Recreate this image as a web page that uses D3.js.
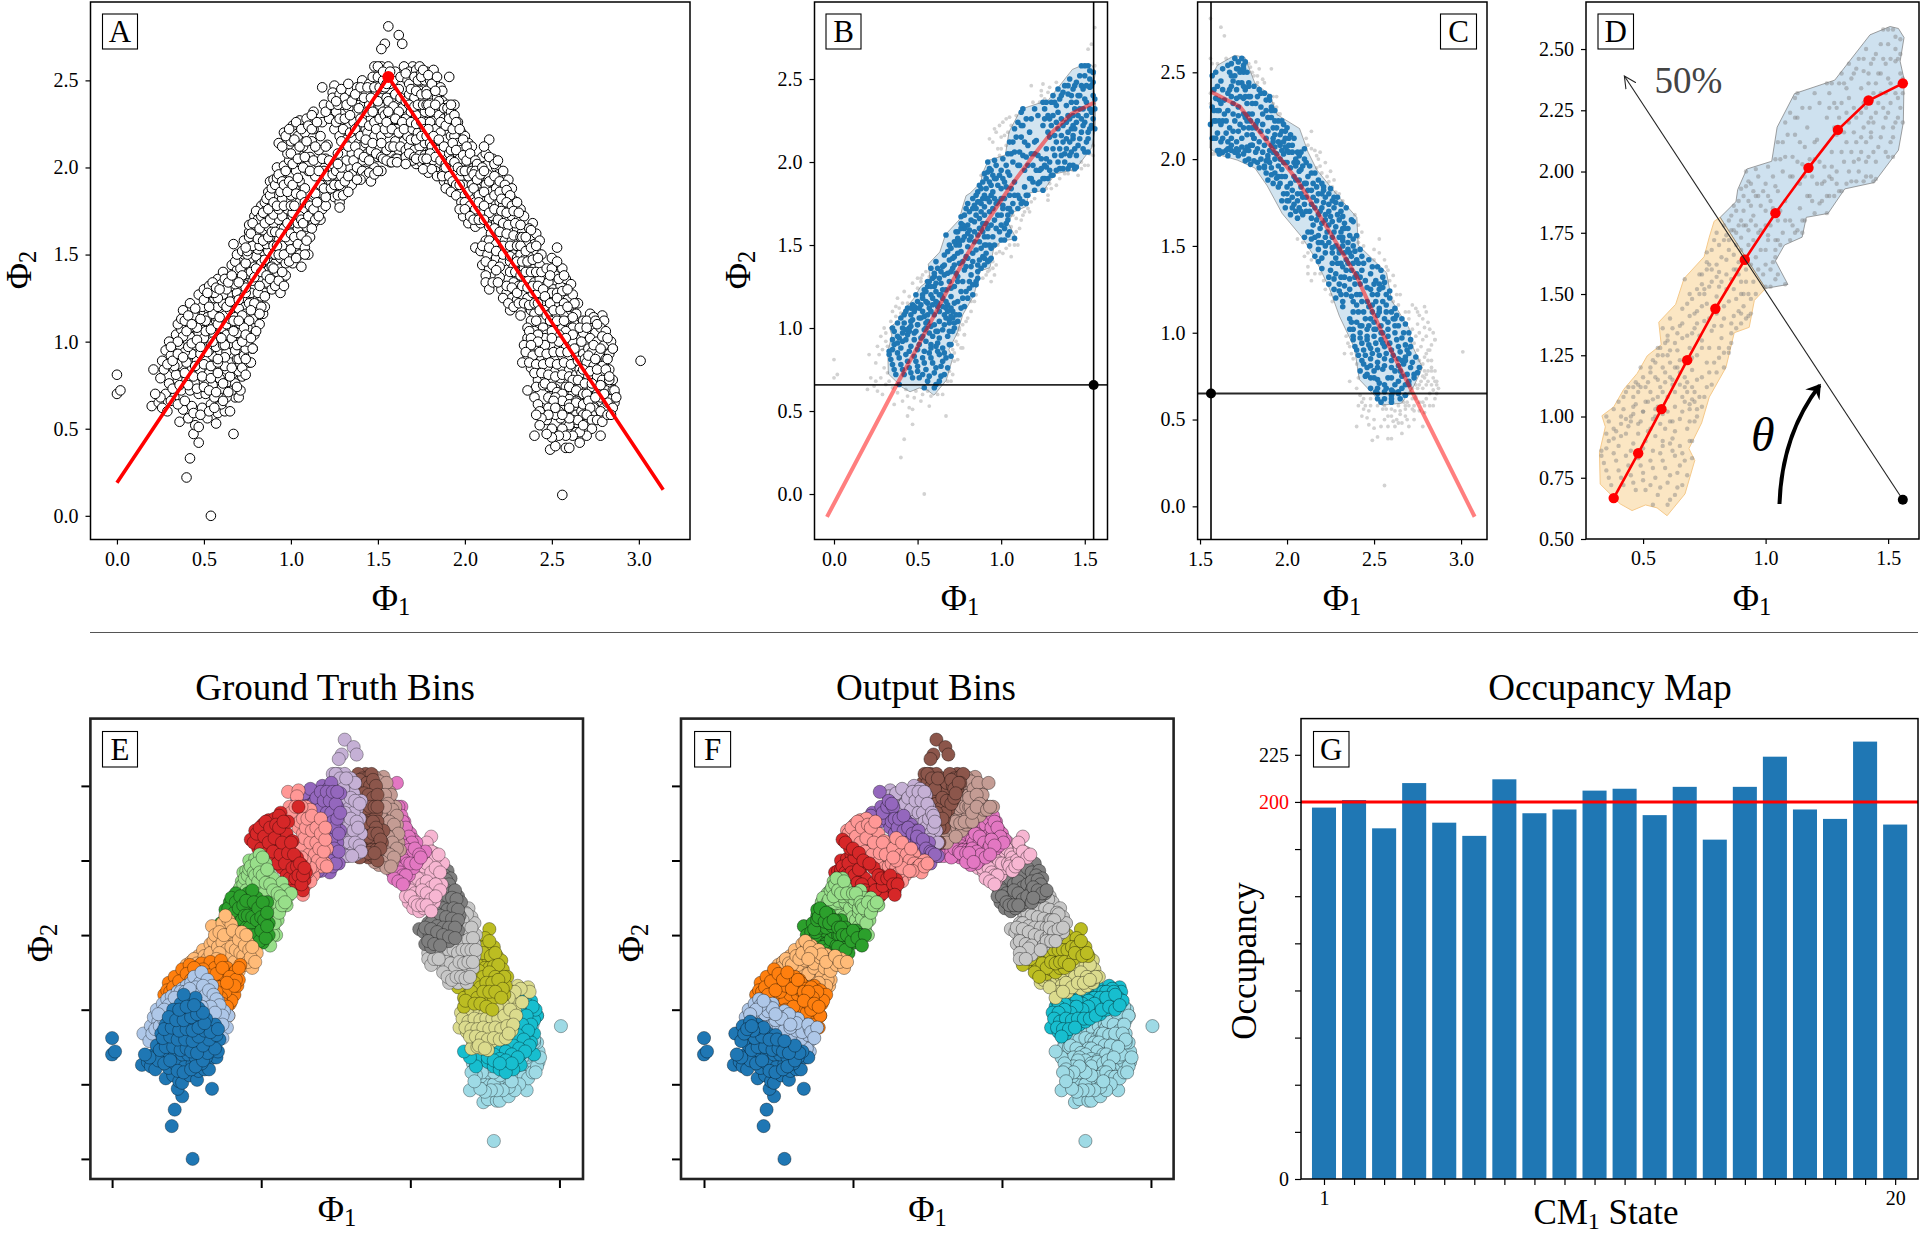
<!DOCTYPE html>
<html><head><meta charset="utf-8"><style>html,body{margin:0;background:#fff}svg{display:block}text{font-family:"Liberation Serif",serif;fill:#000}</style>
<script src="https://cdn.jsdelivr.net/npm/d3@7"></script></head><body><svg id="c" width="1920" height="1234"></svg>
<script>
const bin01=[0,81,0,70,2,72,54,0,40,22,42,33,47,42,44,47,67,47,20,63,24,65,26,62,29,60,36,54,41,56,45,52,47,51,52,56,57,53,58,59,62,60,65,60,68,68,70,68,38,61,43,63,49,62,54,64,60,64,63,68,66,72,71,72,28,70,33,68,37,72,42,72,47,70,51,70,56,68,60,73,64,77,68,76,72,80,30,76,35,78,40,78,45,76,50,77,55,75,59,79,63,84,67,82,33,84,38,85,43,84,48,83,53,82,57,85,61,89,65,88,69,90,36,90,41,92,46,89,51,90,55,92,59,95,63,94,44,96,49,98,54,99,58,101,46,104,52,106,56,108,41,100,48,110,31,66,35,64,39,66,44,59,48,58,53,60,56,62,61,66,64,71,69,74,32,73,36,75,41,75,46,73,50,74,53,72,57,71,61,76,65,80,70,83,34,81,39,82,44,80,49,80,54,79,58,82,62,86,66,85,71,87,35,87,40,88,45,86,50,87,54,86,58,88,62,91,38,95,43,93,48,93,53,95,57,97,61,98,45,100,50,102,55,103,25,68,22,70];
const bin02=[21,84,25,79,26,89,28,95,30,100,31,92,34,104,33,86,36,98,37,107,39,94,40,109,42,103,44,112,45,98,47,114,47,105,50,116,50,102,53,110,53,118,55,122,56,104,57,112,59,118,60,108,60,125,62,113,63,104,64,120,65,99,66,108,67,116,68,95,69,103,70,90,71,98,72,85,73,92,76,88,78,96,77,88,52,94,62,98,58,90,75,99,71,106,74,81,27,84,29,87,32,89,35,93,38,91,41,97,43,99,46,101,48,97,51,106,54,107,56,115,58,110,61,116,63,110,65,113,68,110,70,107,72,103,74,96,46,112,49,112,52,114,38,103,42,108,35,100,31,97,66,102,69,98,74,90,55,100,60,102];
const bin03=[35,110,38,118,40,106,42,122,44,115,46,108,47,127,49,120,51,112,52,130,54,123,55,116,57,128,58,120,60,131,61,122,62,115,64,127,65,118,66,132,67,123,68,114,69,128,70,119,71,110,72,125,73,133,74,116,75,108,76,122,77,128,78,113,79,104,80,118,81,124,82,110,83,126,84,116,85,120,86,130,75,100,78,96,80,106,69,105,72,100,37,113,39,112,41,115,43,110,45,119,48,113,50,124,53,120,56,125,59,114,61,127,63,120,65,123,67,112,70,124,72,115,74,128,76,112,79,122,83,120,85,128,82,116,77,118,73,108,70,112,67,106,74,104,77,102,58,125,55,128];
const bin04=[50,130,53,132,56,128,58,136,60,133,61,140,63,130,65,137,66,144,67,156,68,133,69,141,70,148,71,136,72,143,73,150,74,131,75,139,76,146,77,153,78,135,79,143,80,149,81,128,82,137,83,145,84,152,85,126,86,134,87,141,88,148,89,130,90,138,91,145,92,134,93,141,94,128,95,136,97,138,74,158,78,160,80,157,76,163,52,128,55,134,57,131,59,130,62,136,64,134,66,138,68,146,69,150,71,142,72,152,74,145,75,150,77,140,79,137,80,142,81,153,82,132,83,140,85,147,86,138,87,152,88,136,89,143,90,150,91,132,92,140,93,135,94,142,96,132,72,138,70,134];
const bin05=[73,158,75,152,76,167,78,155,79,172,80,162,81,170,82,155,83,178,84,164,85,172,86,156,87,166,88,175,89,158,90,168,91,178,91,150,92,160,93,170,94,148,95,155,96,165,97,175,97,145,98,150,99,158,100,168,101,145,102,153,103,163,104,172,105,150,105,158,94,180,88,160,90,142,95,140,74,154,76,160,77,162,78,168,80,175,81,159,82,165,83,172,84,158,85,168,86,176,87,160,88,170,89,163,90,155,90,173,91,163,92,155,93,150,94,162,95,172,96,150,97,160,98,168,99,146,100,153,100,162,101,172,102,160,103,148,104,156,104,165];
const bin06=[84,174,85,180,87,186,88,192,89,178,90,193,91,184,92,200,93,188,93,176,94,195,95,182,96,201,97,190,98,176,99,204,100,184,100,195,101,174,102,188,103,198,104,168,105,180,105,192,106,161,107,175,108,188,108,154,109,166,110,180,110,150,111,160,112,175,113,168,114,185,115,175,116,180,117,170,118,176,120,178,108,150,106,143,86,182,87,176,88,184,89,188,90,180,91,190,92,178,92,194,93,196,94,186,95,192,96,178,96,190,97,198,98,186,99,192,100,178,101,190,101,202,102,178,103,185,104,194,105,172,106,184,106,170,107,168,108,180,109,158,110,172,111,178,112,165,113,176,114,170,116,172];
const bin07=[93,214,96,220,98,208,100,215,101,224,103,210,104,218,105,227,106,205,107,212,108,220,109,228,110,198,111,206,112,215,113,222,114,195,115,203,116,210,117,218,118,190,119,198,120,205,121,213,122,187,123,195,124,202,125,183,126,190,127,197,128,180,129,187,130,192,118,226,113,232,112,230,115,180,120,183,125,236,95,212,97,218,99,222,100,208,102,216,103,226,104,205,105,212,106,222,107,200,108,206,109,215,110,224,111,198,112,222,113,204,114,212,115,226,116,198,117,190,118,205,119,188,120,212,121,195,122,204,123,188,124,196,125,190,126,198,127,184,128,190,129,195];
const bin08=[118,246,125,247,124,243,119,236,122,228,125,222,126,232,128,218,129,226,130,236,131,208,132,216,133,224,133,234,134,200,135,208,136,216,136,226,137,196,138,205,139,214,139,224,140,196,141,204,141,212,142,220,143,198,144,208,135,190,130,184,128,177,133,186,127,208,120,232,123,236,126,226,127,236,128,228,129,215,130,222,131,228,132,204,133,212,134,220,134,230,135,196,136,204,137,212,137,222,138,200,139,208,140,218,140,228,141,198,142,206,143,214,143,222,144,196,131,192,133,195,129,200,127,202];
const bin09=[124,240,128,242,131,240,134,244,136,240,138,246,140,241,141,250,142,236,143,228,143,244,144,220,145,236,145,248,146,210,146,228,147,240,147,252,148,200,148,218,149,232,149,244,150,206,150,224,151,212,151,236,152,198,153,220,153,245,143,195,145,197,146,192,140,193,148,196,138,193,126,238,129,245,132,236,133,248,135,238,137,242,139,234,140,246,141,226,142,240,143,216,144,232,144,246,145,204,145,224,146,240,147,214,147,232,148,226,148,246,149,208,149,222,150,238,150,198,151,228,151,246,152,218,152,206,153,232];
const bin10=[156,281,162,276,164,271,154,271,152,268,148,258,150,252,152,258,153,250,155,254,156,258,157,248,158,240,159,250,160,255,161,234,162,245,163,252,154,230,155,240,156,220,157,230,158,212,159,222,160,205,160,215,161,228,162,210,163,222,164,234,165,215,165,205,166,228,167,218,167,240,155,210,153,205,152,214,157,203,163,204,150,258,153,255,154,246,155,248,156,238,157,255,158,228,159,235,160,242,161,222,162,232,163,240,154,222,155,226,156,232,157,212,158,222,159,212,160,228,161,205,162,220,163,212,164,226,165,222,166,210,166,238,167,206,155,204,158,203,161,203];
const bin11=[170,258,165,258,168,255,172,256,174,258,167,250,170,248,172,252,175,250,168,242,171,240,174,244,176,240,169,232,172,230,175,235,177,232,170,222,173,220,176,224,178,226,180,218,168,212,171,210,174,212,177,214,179,208,181,212,168,205,172,202,175,203,178,200,170,204,166,206,182,220,166,202,166,254,168,248,171,252,173,250,175,254,177,250,169,245,172,244,175,242,178,244,168,236,171,235,173,236,176,236,178,236,169,226,172,225,175,226,177,222,169,216,172,216,175,218,178,218,180,214,168,208,171,206,174,207,177,207,180,208,172,205,176,205];
const bin12=[178,255,182,256,175,252,180,250,183,248,186,246,181,242,184,240,187,238,190,236,179,236,182,232,185,230,188,228,191,224,180,226,183,222,186,220,189,216,192,212,181,212,184,210,187,208,190,205,182,204,185,200,188,199,183,198,179,197,193,207,176,199,176,256,179,253,181,248,184,252,187,244,178,242,183,244,185,238,188,234,191,230,180,232,183,236,186,226,189,224,192,218,179,222,182,218,185,216,188,212,191,208,180,208,183,206,186,204,189,202,178,205,181,199,184,195,187,196];
const bin13=[191,252,190,234,192,232,194,236,193,228,196,226,195,222,198,220,197,216,200,218,199,212,202,214,201,208,204,212,194,218,192,210,196,208,198,203,200,205,203,204,190,198,193,200,195,196,197,194,199,198,188,192,191,191,194,189,196,186,199,190,187,195,202,195,205,200,208,204,210,206,192,236,191,228,194,230,193,222,195,226,197,222,196,214,199,216,198,210,201,212,193,214,195,210,197,205,199,207,201,204,192,204,194,203,196,200,198,198,200,198,189,200,191,195,193,192,195,190,197,190,189,188,192,186,195,184,203,208,206,204,204,198,207,202];
const bin14=[214,216,212,208,216,205,218,200,206,198,208,194,210,200,213,196,216,192,219,196,222,198,204,190,207,188,210,186,212,190,215,186,218,188,221,184,200,184,203,182,206,180,209,178,212,182,215,178,218,180,198,180,201,176,204,174,207,172,210,174,213,170,216,172,199,172,202,168,206,166,209,168,211,212,214,206,217,202,219,204,205,196,207,193,209,196,211,198,214,192,217,195,220,192,202,186,205,188,208,184,211,186,214,182,217,184,220,180,200,180,203,178,206,176,208,180,211,178,214,174,217,176,197,176,200,176,203,172,205,170,208,170,211,170,214,166];
const bin15=[225,193,223,190,227,188,220,186,225,183,228,181,222,178,226,176,229,178,232,176,220,172,224,170,227,172,231,170,234,172,218,168,222,165,226,164,230,165,233,163,215,162,219,160,223,158,227,158,231,158,212,158,216,155,220,152,224,152,228,150,232,153,206,154,209,152,213,150,218,148,222,146,226,146,210,144,214,142,224,187,226,184,221,182,224,180,227,178,230,180,221,175,224,174,228,175,231,174,219,170,222,168,225,167,229,168,232,167,217,165,220,163,224,162,228,161,232,160,214,158,218,156,222,155,226,155,230,155,210,155,214,154,218,152,222,150,226,149,230,148,212,146,216,144,220,143];
const bin16=[239,168,241,162,237,165,233,160,236,156,240,156,243,158,232,150,235,148,238,150,241,152,244,150,228,143,231,140,234,142,237,144,240,142,243,144,225,136,228,134,231,132,234,136,237,136,240,134,243,136,221,130,224,128,227,125,230,124,233,127,236,125,239,128,242,128,220,137,218,141,212,138,212,134,214,130,226,118,232,118,238,118,238,164,235,160,232,155,235,152,238,154,241,155,230,146,233,146,236,146,239,147,242,148,226,140,229,140,232,138,235,140,238,140,241,140,244,140,224,132,227,131,230,128,233,132,236,131,239,132,242,132,222,125,225,122,228,120,231,122,234,122,237,121,240,122,216,134,219,134];
const bin17=[253,154,250,148,247,142,252,138,256,142,248,134,251,130,255,132,258,136,261,133,245,130,248,125,252,122,255,126,259,124,262,127,265,122,242,122,246,118,249,116,253,114,257,116,261,118,264,116,240,116,244,112,248,108,252,110,256,108,260,112,263,110,238,112,232,115,236,108,240,106,236,102,250,142,253,146,249,138,254,136,257,138,250,128,253,128,256,129,259,130,246,126,249,122,253,125,257,122,260,120,263,122,243,118,247,115,251,118,255,118,259,120,262,114,241,112,245,108,249,112,253,112,257,112,261,108,237,106,243,104,247,104,251,102,255,100];
const bin18=[279,115,280,112,272,116,268,112,264,104,268,105,262,108,258,106,254,104,250,106,246,102,242,104,238,102,234,98,238,96,242,97,246,96,250,98,254,96,258,98,262,100,266,97,270,100,236,92,240,90,244,90,248,91,252,90,256,92,260,90,264,92,268,93,233,88,238,85,243,84,248,85,252,83,256,85,260,84,264,85,268,86,242,78,246,80,250,78,255,79,248,74,252,73,241,74,245,75,274,114,270,112,266,108,262,104,258,102,254,100,250,102,246,98,242,100,238,98,235,94,239,92,243,94,247,93,251,94,255,94,259,94,263,96,267,100,271,96,275,105,237,88,241,87,245,87,249,88,253,87,257,88,261,87,265,89,269,90,240,82,244,82,248,81,252,80,256,81,260,80,264,81,266,84,246,76,250,74];
const bin19=[275,112,278,108,281,106,285,96,270,108,272,102,276,100,280,98,283,93,284,100,273,94,277,92,280,88,283,84,270,88,274,86,278,82,281,78,267,82,271,80,275,77,279,74,283,70,262,78,266,75,270,72,274,70,262,70,258,74,266,68,270,65,274,63,253,71,257,68,261,66,265,62,269,60,248,68,252,65,256,62,260,60,264,58,244,62,240,68,236,72,276,110,279,103,282,102,274,98,278,96,281,90,271,92,275,90,279,86,268,84,272,83,276,80,280,76,265,78,269,76,273,74,277,72,260,74,264,72,268,70,272,68,256,70,260,67,264,66,268,64,252,68,256,66,260,64];
const bin20=[301,89,285,96,286,70,286,65,284,74,282,90,279,78,276,84,273,76,270,70,267,60,264,65,260,62,257,56,254,60,251,66,248,62,245,58,242,64,243,60,240,46,246,51,249,38,252,40,258,39,260,39,266,42,278,46,256,12,263,50,269,50,261,49,265,53,272,56,276,60,280,62,284,67,279,58,274,62,268,64,262,55,258,52,255,56,250,50,247,55,264,48,260,52,271,66,276,70,281,72,256,50,252,58,278,60,273,58,268,56,282,65,285,72,278,68,286,72,285,78,283,78,281,84,283,80,280,70,278,75,275,68,272,62,268,58,265,55,270,58,273,55,276,55,279,54,282,58,285,62,284,58,287,68,273,50,270,46,266,48,262,46,258,46,254,46,250,45,247,47,268,52,260,56,256,58,252,62,248,58,244,56,241,58,243,52];
const binColours=["#1f77b4","#aec7e8","#ff7f0e","#ffbb78","#2ca02c","#98df8a","#d62728","#ff9896","#9467bd","#c5b0d5","#8c564b","#c49c94","#e377c2","#f7b6d2","#7f7f7f","#c7c7c7","#bcbd22","#dbdb8d","#17becf","#9edae5"];
// Panel A: two straight lines and their apex
const tentLine=[[0,0.19],[1.56,2.52],[3.14,0.15]];
// Principal curves
const curveLeft=[[0.38,0.667],[0.48,0.85],[0.575,1.03],[0.68,1.23],[0.795,1.44],[0.915,1.64],[1.04,1.83],[1.175,2.015],[1.295,2.17],[1.42,2.29],[1.56,2.36]];
const extensionLeft=[-0.042,-0.138];
const curveRight=[[1.563,2.388],[1.729,2.302],[1.915,2.063],[2.058,1.88],[2.215,1.63],[2.401,1.323],[2.544,1.004],[2.701,0.696],[3.078,-0.06]];
// Where the panel F bands cross the principal curve
const outputCuts=[[0.475,0.84],[0.555,0.99],[0.665,1.2],[0.785,1.42],[0.9,1.615],[1.03,1.815],[1.15,1.98],[1.29,2.165],[1.39,2.26],[1.54,2.35],[1.66,2.335],[1.78,2.23],[1.93,2.04],[2.04,1.905],[2.17,1.7],[2.33,1.44],[2.42,1.27],[2.49,1.12],[2.59,0.91]];
// Hulls
const hullUpper=[[0.8146,1.813],[0.879,1.877],[0.886,1.926],[0.923,2.01],[1.025,2.042],[1.047,2.181],[1.118,2.318],[1.282,2.373],[1.426,2.558],[1.508,2.592],[1.542,2.584],[1.565,2.547],[1.549,2.45],[1.565,2.377],[1.562,2.2],[1.542,2.087],[1.443,1.955],[1.323,1.929],[1.255,1.829],[1.166,1.813],[1.149,1.732],[1.077,1.7],[1.04,1.635],[1.091,1.539],[1.0,1.523]];
const hullLower=[[1.0,1.523],[0.954,1.474],[0.933,1.364],[0.872,1.342],[0.838,1.2],[0.77,1.079],[0.739,0.974],[0.687,0.869],[0.711,0.821],[0.671,0.684],[0.598,0.595],[0.557,0.627],[0.51,0.639],[0.455,0.616],[0.407,0.643],[0.325,0.724],[0.322,0.853],[0.346,0.958],[0.332,1.003],[0.38,1.039],[0.421,1.111],[0.476,1.176],[0.517,1.248],[0.574,1.293],[0.564,1.385],[0.633,1.458],[0.667,1.563],[0.749,1.652],[0.77,1.732],[0.79,1.797],[0.8146,1.813]];
const hullRight=[[1.563,2.472],[1.6,2.541],[1.7,2.598],[1.758,2.586],[1.815,2.438],[1.901,2.37],[1.943,2.256],[2.072,2.176],[2.121,2.04],[2.172,1.937],[2.301,1.778],[2.401,1.664],[2.409,1.505],[2.572,1.345],[2.601,1.186],[2.701,1.027],[2.715,0.936],[2.778,0.799],[2.73,0.696],[2.658,0.594],[2.544,0.583],[2.501,0.64],[2.415,0.731],[2.387,0.913],[2.301,1.095],[2.244,1.254],[2.158,1.436],[2.086,1.55],[1.972,1.687],[1.886,1.846],[1.815,1.949],[1.715,1.994],[1.6,2.028],[1.557,2.063]];
const anchorB=[1.553,0.657], anchorC=[1.563,0.65], anchorD=[1.56,0.66], arrowTipD=[0.4236,2.39];
const thetaArrow=[[1.0566,0.643],[1.066,0.926],[1.2206,1.127]];
// Panel G
const occupancy=[197,201,186,210,189,182,212,194,196,206,207,193,208,180,208,224,196,191,232,188];
const occTicks=[0,25,50,75,100,125,150,175,200,225];
const ticks05=[0,0.5,1,1.5,2,2.5];

const allBins=[bin01,bin02,bin03,bin04,bin05,bin06,bin07,bin08,bin09,bin10,bin11,bin12,bin13,bin14,bin15,bin16,bin17,bin18,bin19,bin20];
const binned=allBins.map((a,b)=>d3.range(0,a.length,2).map(i=>({x:a[i]/100,y:a[i+1]/100,bin:b})));
const cloud=binned.flat();
const svg=d3.select("#c");
const defs=svg.append("defs");
defs.append("marker").attr("id","open").attr("viewBox","-12 -8 14 16").attr("markerWidth",14).attr("markerHeight",16).attr("markerUnits","userSpaceOnUse").attr("refX",0).attr("refY",0).attr("orient","auto")
 .append("path").attr("d","M-12,-6L0,0L-12,6").attr("fill","none").attr("stroke","#222").attr("stroke-width",1.1);
defs.append("marker").attr("id","solid").attr("viewBox","-14 -9 16 18").attr("markerWidth",16).attr("markerHeight",18).attr("markerUnits","userSpaceOnUse").attr("refX",-2).attr("refY",0).attr("orient","auto")
 .append("path").attr("d","M-14,-9L0,0L-14,9L-9,0Z").attr("fill","#000");

function panel(r,xd,yd,o){
  const g=svg.append("g");
  const x=d3.scaleLinear().domain(xd).range([r[0],r[1]]),y=d3.scaleLinear().domain(yd).range([r[3],r[2]]);
  return {g,x,y,r,o};
}
function finish(p,o){
  const {g,x,y,r}=p,len=o.len||5,sw=o.sw||1.5;
  const ax=g.append("g").attr("transform",`translate(0,${r[3]})`).call(d3.axisBottom(x).tickValues(o.xt).tickSize(len).tickPadding(o.pad||7).tickFormat(o.xf||(()=>"")));
  const ay=g.append("g").attr("transform",`translate(${r[0]},0)`).call(d3.axisLeft(y).tickValues(o.yt).tickSize(len).tickPadding(o.pad||7).tickFormat(o.yf||(()=>"")));
  [ax,ay].forEach(a=>{a.select(".domain").remove();a.selectAll("line").attr("stroke","#000").attr("stroke-width",o.tw||1.2);a.selectAll("text").attr("font-size",20).attr("font-family",'"Liberation Serif",serif');});
  g.append("rect").attr("x",r[0]).attr("y",r[2]).attr("width",r[1]-r[0]).attr("height",r[3]-r[2]).attr("fill","none").attr("stroke",o.frame||"#000").attr("stroke-width",sw);
}
function letter(t,x0,y0,w,h){
  svg.append("rect").attr("x",x0).attr("y",y0).attr("width",w).attr("height",h).attr("fill","#fff").attr("stroke","#000").attr("stroke-width",1.1);
  svg.append("text").attr("x",x0+w/2).attr("y",y0+h/2+10.5).attr("text-anchor","middle").attr("font-size",31).text(t);
}
function phi(x,y,n,rot,size){
  size=size||36;
  const t=svg.append("text").attr("text-anchor","middle").attr("font-size",size);
  t.attr("transform",`translate(${x},${y})`+(rot?" rotate(-90)":""));
  t.append("tspan").text("Φ");
  t.append("tspan").attr("font-size",size*0.68).attr("dy",size*0.14).text(n);
}
const line=(p)=>d3.line().x(d=>p.x(d[0])).y(d=>p.y(d[1]));
const dots=(p,data,r,fill,extra)=>{const s=p.g.append("g").selectAll("circle").data(data).join("circle").attr("cx",d=>p.x(d.x)).attr("cy",d=>p.y(d.y)).attr("r",r).attr("fill",fill);if(extra)extra(s);return s;};
const fmt1=d3.format(".1f"),fmt2=d3.format(".2f");

// A
{const p=panel([90.5,690,2,539.5],[-0.152,3.294],[-0.136,2.95]);
 dots(p,cloud,4.8,"#fff",s=>s.attr("stroke","#000").attr("stroke-width",1));
 p.g.append("path").attr("d",line(p)(tentLine)).attr("fill","none").attr("stroke","#f00").attr("stroke-width",3.6);
 p.g.append("circle").attr("cx",p.x(tentLine[1][0])).attr("cy",p.y(tentLine[1][1])).attr("r",6).attr("fill","#f00");
 finish(p,{xt:[0,.5,1,1.5,2,2.5,3],yt:ticks05,xf:fmt1,yf:fmt1});
 letter("A",102.5,14,35,35);phi(391,610,"1");phi(31,270,"2",true);}

// B and C
function slice(r,xd,yd,hull,curve,anchor,xt,test){
  const p=panel(r,xd,yd);
  const inside=d=>d3.polygonContains(hull,[d.x,d.y]);
  const side=cloud.filter(test);
  dots(p,side.filter(d=>!inside(d)),1.9,"#d2d2d2");
  p.g.append("path").attr("d",line(p)(hull)+"Z").attr("fill","#1f77b4").attr("fill-opacity",.2).attr("stroke","#777").attr("stroke-opacity",.6).attr("stroke-width",1);
  dots(p,side.filter(inside),2.8,"#1f77b4");
  p.g.append("path").attr("d",line(p)(curve)).attr("fill","none").attr("stroke","#f00").attr("stroke-opacity",.5).attr("stroke-width",4);
  p.g.append("line").attr("x1",p.x(anchor[0])).attr("x2",p.x(anchor[0])).attr("y1",r[2]).attr("y2",r[3]).attr("stroke","#000").attr("stroke-width",1.6);
  p.g.append("line").attr("x1",r[0]).attr("x2",r[1]).attr("y1",p.y(anchor[1])).attr("y2",p.y(anchor[1])).attr("stroke","#000").attr("stroke-opacity",.85).attr("stroke-width",1.8);
  p.g.append("circle").attr("cx",p.x(anchor[0])).attr("cy",p.y(anchor[1])).attr("r",5).attr("fill","#000");
  finish(p,{xt,yt:ticks05,xf:fmt1,yf:fmt1});
}
slice([814.5,1107.5,2,539.5],[-0.1166,1.636],[-0.274,2.964],hullUpper.concat(hullLower.slice(1,-1)),[extensionLeft].concat(curveLeft),anchorB,[0,.5,1,1.5],d=>d.x<=1.565);
letter("B",826,14,35,35);phi(960,610,"1");phi(750,270,"2",true);
slice([1197.6,1487,2,539.5],[1.486,3.149],[-0.191,2.905],hullRight,curveRight,anchorC,[1.5,2,2.5,3],d=>d.x>=1.555);
letter("C",1440.5,14,36,35);phi(1342,610,"1");

// D
{const p=panel([1586,1919,2,539],[0.267,1.626],[0.5,2.692]);
 p.g.append("path").attr("d",line(p)(hullLower)+"Z").attr("fill","#fbe6c3").attr("stroke","#f5c98a").attr("stroke-width",1);
 p.g.append("path").attr("d",line(p)(hullUpper)+"Z").attr("fill","#1f77b4").attr("fill-opacity",.22).attr("stroke","#777").attr("stroke-opacity",.7).attr("stroke-width",1);
 const pts=cloud.filter(d=>d3.polygonContains(hullUpper,[d.x,d.y])||d3.polygonContains(hullLower,[d.x,d.y]));
 dots(p,pts,2.2,"#808080",s=>s.attr("fill-opacity",.45));
 p.g.append("path").attr("d",line(p)(curveLeft)).attr("fill","none").attr("stroke","#f00").attr("stroke-width",2.6);
 p.g.append("g").selectAll("circle").data(curveLeft).join("circle").attr("cx",d=>p.x(d[0])).attr("cy",d=>p.y(d[1])).attr("r",5.2).attr("fill","#f00");
 p.g.append("line").attr("x1",p.x(anchorD[0])).attr("y1",p.y(anchorD[1])).attr("x2",p.x(arrowTipD[0])).attr("y2",p.y(arrowTipD[1])).attr("stroke","#222").attr("stroke-width",1.1).attr("marker-end","url(#open)");
 p.g.append("circle").attr("cx",p.x(anchorD[0])).attr("cy",p.y(anchorD[1])).attr("r",5).attr("fill","#000");
 const q=d3.path();q.moveTo(p.x(thetaArrow[0][0]),p.y(thetaArrow[0][1]));q.quadraticCurveTo(p.x(thetaArrow[1][0]),p.y(thetaArrow[1][1]),p.x(thetaArrow[2][0]),p.y(thetaArrow[2][1]));
 p.g.append("path").attr("d",q.toString()).attr("fill","none").attr("stroke","#000").attr("stroke-width",4).attr("marker-end","url(#solid)");
 p.g.append("text").attr("x",p.x(0.5467)).attr("y",p.y(2.32)).attr("font-size",37).style("fill","#444").text("50%");
 p.g.append("text").attr("x",p.x(0.94)).attr("y",p.y(0.861)).attr("font-size",48).attr("font-style","italic").text("θ");
 finish(p,{xt:[.5,1,1.5],yt:[.5,.75,1,1.25,1.5,1.75,2,2.25,2.5],xf:fmt1,yf:fmt2});
 letter("D",1598,14,35.5,35);phi(1752,610,"1");}

// E
const lowY=[-0.1347,2.951];
const lowOpts={xt:[0,1,2,3],yt:ticks05,len:9,sw:2.6,tw:2,frame:"#222"};
{const p=panel([90.4,583,718.6,1179],[-0.1455,3.158],lowY);
 binned.slice().reverse().forEach(b=>dots(p,b,6.6,binColours[b[0].bin],s=>s.attr("stroke","#000").attr("stroke-opacity",.4).attr("stroke-width",.8)));
 finish(p,lowOpts);letter("E",102.5,731.5,35,35.5);phi(337,1221,"1");phi(52,943,"2",true);}
svg.append("text").attr("x",335).attr("y",700).attr("text-anchor","middle").attr("font-size",37).text("Ground Truth Bins");

// F: the same points, cut along the principal curve
{const p=panel([681,1173.6,718.6,1179],[-0.1544,3.152],lowY);
 const path=[extensionLeft].concat(curveLeft,curveRight.slice(1));
 const cum=[0];for(let i=1;i<path.length;i++)cum.push(cum[i-1]+Math.hypot(path[i][0]-path[i-1][0],path[i][1]-path[i-1][1]));
 const along=(px,py)=>{let best=1e9,s=0;for(let i=1;i<path.length;i++){const a=path[i-1],b=path[i],vx=b[0]-a[0],vy=b[1]-a[1],t=Math.max(0,Math.min(1,((px-a[0])*vx+(py-a[1])*vy)/(vx*vx+vy*vy))),e=Math.hypot(px-a[0]-t*vx,py-a[1]-t*vy);if(e<best){best=e;s=cum[i-1]+t*(cum[i]-cum[i-1]);}}return s;};
 const cuts=outputCuts.map(c=>along(c[0],c[1]));
 const assigned=cloud.map(d=>({x:d.x,y:d.y,bin:d3.bisectRight(cuts,along(d.x,d.y))}));
 const groups=d3.groups(assigned,d=>d.bin).sort((a,b)=>b[0]-a[0]);
 groups.forEach(([b,pts])=>dots(p,pts,6.6,binColours[b],s=>s.attr("stroke","#000").attr("stroke-opacity",.45).attr("stroke-width",.8)));
 finish(p,lowOpts);letter("F",694.6,731.5,36,35.5);phi(927.5,1221,"1");phi(643,943,"2",true);}
svg.append("text").attr("x",926).attr("y",700).attr("text-anchor","middle").attr("font-size",37).text("Output Bins");

// G
{const r=[1301,1918,718.6,1179];
 const p=panel(r,[0.235,20.76],[0,244.2]);
 const states=d3.range(1,21);
 p.g.append("g").selectAll("rect").data(occupancy).join("rect").attr("x",(d,i)=>p.x(states[i]-.4)).attr("width",p.x(1.8)-p.x(1)).attr("y",d=>p.y(d)).attr("height",d=>p.y(0)-p.y(d)).attr("fill","#1f77b4");
 p.g.append("line").attr("x1",r[0]).attr("x2",r[1]).attr("y1",p.y(200)).attr("y2",p.y(200)).attr("stroke","#f00").attr("stroke-width",3);
 finish(p,{xt:states,yt:occTicks,len:6,sw:1.5,pad:6,xf:d=>(d==1||d==20)?d:"",yf:d=>(d==0||d==200||d==225)?d:""});
 p.g.selectAll("g.tick text").filter(d=>d===200).style("fill","#f00").attr("fill","#f00");
 letter("G",1313.5,731.5,35.5,35.5);
 svg.append("text").attr("text-anchor","middle").attr("font-size",35).attr("transform","translate(1256,961) rotate(-90)").text("Occupancy");
 const t=svg.append("text").attr("x",1606).attr("y",1224).attr("text-anchor","middle").attr("font-size",35);
 t.append("tspan").text("CM");t.append("tspan").attr("font-size",24).attr("dy",5).text("1");t.append("tspan").attr("dy",-5).text(" State");}
svg.append("text").attr("x",1610).attr("y",700).attr("text-anchor","middle").attr("font-size",37).text("Occupancy Map");

// divider
svg.append("line").attr("x1",90).attr("x2",1918).attr("y1",632.5).attr("y2",632.5).attr("stroke","#555").attr("stroke-width",1);
</script></body></html>
